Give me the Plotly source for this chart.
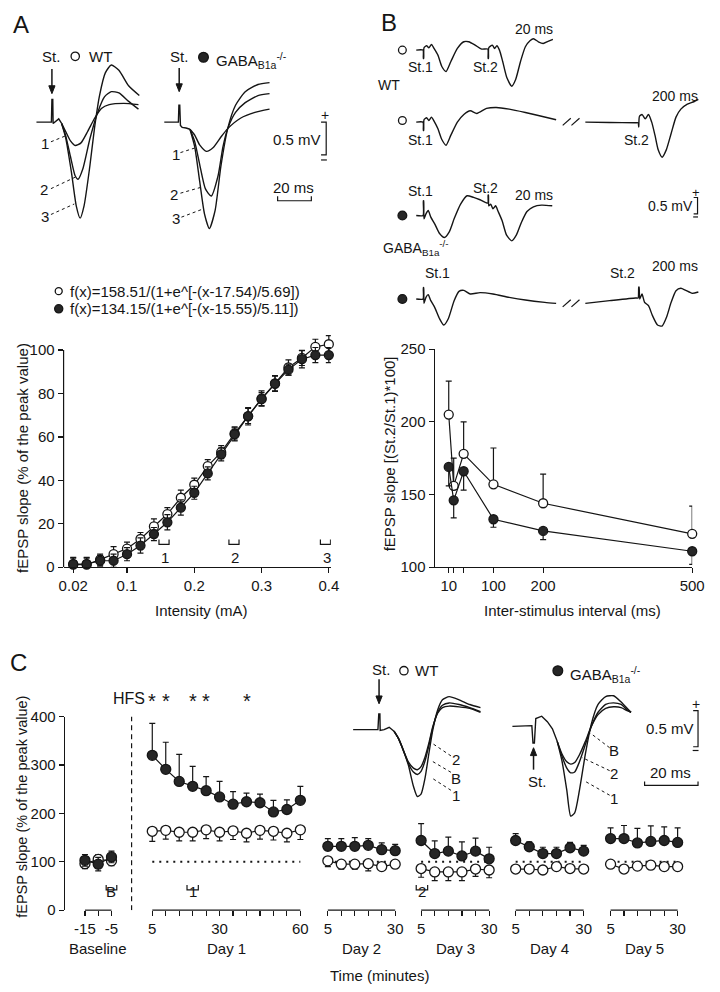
import plotly.graph_objects as go

# The page body keeps the browser's default 8 px margin, so the figure is
# 16 px smaller than the 720x992 window and all positions below are given in
# window pixels and shifted by that margin.
PAGE_W, PAGE_H, BODY = 720, 992, 8
W, H = PAGE_W - 2 * BODY, PAGE_H - 2 * BODY
FONT = "Arial, 'Liberation Sans', Helvetica, sans-serif"
INK = "#151515"
KO_FILL = "#262626"

# ===================== DATA =====================
# ---- Panel A: input/output curve
intensity_mA = [0.02, 0.04, 0.06, 0.08, 0.10, 0.12, 0.14, 0.16, 0.18, 0.20,
                0.22, 0.24, 0.26, 0.28, 0.30, 0.32, 0.34, 0.36, 0.38, 0.40]
io_wt = [1.2, 1.2, 3.5, 6.0, 8.6, 13.0, 18.8, 24.5, 32.0, 38.0,
         46.6, 53.0, 61.6, 69.5, 77.7, 84.7, 92.0, 96.4, 101.5, 102.7]
io_wt_sem = [3.0, 3.0, 2.5, 3.5, 3.0, 3.0, 3.5, 3.0, 3.5, 3.0,
             3.0, 3.0, 3.0, 4.0, 3.5, 3.5, 3.5, 3.5, 3.5, 4.0]
io_ko = [1.5, 1.5, 3.0, 3.0, 6.0, 10.0, 15.3, 20.7, 27.5, 34.3,
         43.2, 52.0, 61.2, 69.6, 77.4, 84.5, 91.0, 95.8, 97.7, 97.7]
io_ko_sem = [3.0, 3.0, 2.5, 3.0, 3.0, 3.5, 3.0, 3.5, 3.5, 3.0,
             3.0, 3.0, 3.0, 3.5, 3.0, 3.5, 2.5, 4.0, 3.5, 3.5]
io_xtick_vals = [0.02, 0.1, 0.2, 0.3, 0.4]
io_xtick_text = ["0.02", "0.1", "0.2", "0.3", "0.4"]
io_ytick_vals = [0, 20, 40, 60, 80, 100]
io_sample_labels = ["1", "2", "3"]
io_sample_mA = [0.155, 0.259, 0.395]
fit_wt = "f(x)=158.51/(1+e^[-(x-17.54)/5.69])"
fit_ko = "f(x)=134.15/(1+e^[-(x-15.55)/5.11])"

# ---- Panel B: paired-pulse ratio
isi_ms = [10, 20, 40, 100, 200, 500]
ppr_wt = [205, 156, 178, 157, 144, 123]
ppr_wt_sem = [23, 19, 22, 25, 20, 19]
ppr_ko = [169, 146, 166, 133, 125, 111]
ppr_ko_sem = [13, 12, 13, 5.5, 6, 9]
isi_tick_vals = [10, 100, 200, 500]
isi_minor_vals = [20, 40]
ppr_ytick_vals = [100, 150, 200, 250]

# ---- Panel C: LTP time course
base_min = [-15, -10, -5]
base_wt = [96, 105, 102]
base_wt_sem = [10, 10, 10]
base_ko = [103, 95, 110]
base_ko_sem = [12, 14, 12]
base_tick_vals = [-15, -5]
base_tick_text = ["-15", "-5"]
day1_min = [5, 10, 15, 20, 25, 30, 35, 40, 45, 50, 55, 60]
day1_wt = [163, 165, 161, 161, 166, 161, 164, 159, 165, 163, 159, 166]
day1_wt_sem = [21, 18, 18, 18, 18, 18, 18, 18, 18, 18, 18, 20]
day1_ko = [320, 291, 266, 256, 247, 234, 219, 224, 222, 203, 208, 227]
day1_ko_sem = [66, 56, 56, 41, 29, 32, 26, 18, 18, 24, 20, 29]
later_min = [5, 10, 15, 20, 25, 30]
day2_wt = [102, 95, 95, 96, 90, 95]
day2_wt_sem = [12, 10, 10, 15, 7, 6]
day2_ko = [132, 132, 132, 134, 125, 123]
day2_ko_sem = [16, 16, 18, 14, 14, 13]
day3_wt = [86, 79, 79, 79, 85, 83]
day3_wt_sem = [18, 18, 18, 18, 15, 16]
day3_ko = [144, 117, 122, 112, 122, 106]
day3_ko_sem = [35, 26, 29, 29, 27, 24]
day4_wt = [85, 85, 83, 90, 86, 85]
day4_wt_sem = [5, 5, 5, 5, 5, 5]
day4_ko = [144, 131, 117, 117, 129, 122]
day4_ko_sem = [14, 10, 13, 13, 11, 12]
day5_wt = [95, 85, 91, 93, 90, 90]
day5_wt_sem = [7, 7, 7, 7, 7, 7]
day5_ko = [148, 148, 139, 142, 144, 140]
day5_ko_sem = [22, 27, 30, 32, 28, 30]
signif_min = [5, 10, 20, 25, 40]
ltp_ytick_vals = [0, 100, 200, 300, 400]
window_labels = ["B", "1", "2"]
window_baseline = [-7.0, -3.0]
window_1 = [17.9, 22.1]
window_2 = [3.2, 7.4]

# ---- Example fEPSP sweeps (time in ms, amplitude in mV)
a_wt_pre_ms = [-9.1, -1.1, -0.3, 0.0, 0.5, 0.7, 2.3, 4.0, 5.7]
a_wt_pre_mv = [0, 0, 0, 0.35, 0.35, -0.02, 0.02, 0.05, -0.02]
a_wt_1_ms = [8.0, 10.9, 13.7, 17.1, 21.1, 25.1, 29.1, 33.7, 42.3, 50.9]
a_wt_1_mv = [-0.14, -0.29, -0.36, -0.32, -0.14, 0.06, 0.21, 0.27, 0.29, 0.27]
a_wt_2_ms = [8.0, 10.9, 13.7, 15.4, 18.3, 22.3, 26.9, 30.9, 34.9, 39.4, 45.1, 50.9]
a_wt_2_mv = [-0.20, -0.53, -0.83, -0.88, -0.71, -0.26, 0.15, 0.39, 0.47, 0.45, 0.32, 0.20]
a_wt_3_ms = [8.0, 11.4, 14.3, 16.6, 18.9, 22.3, 25.1, 28.0, 31.4, 34.9, 39.4, 45.1, 51.4]
a_wt_3_mv = [-0.23, -0.76, -1.29, -1.48, -1.29, -0.68, -0.08, 0.41, 0.76, 0.88, 0.80, 0.56, 0.41]

a_ko_pre_ms = [-8.6, -1.0, -0.3, 0.0, 0.5, 0.9, 1.9, 4.2, 6.5]
a_ko_pre_mv = [0, 0, 0, 0.26, 0.26, -0.05, -0.08, -0.09, -0.11]
a_ko_1_ms = [9.3, 12.2, 16.2, 20.2, 24.7, 28.7, 36.2, 44.7, 53.3]
a_ko_1_mv = [-0.20, -0.35, -0.45, -0.39, -0.23, -0.10, 0.06, 0.15, 0.20]
a_ko_2_ms = [9.3, 12.2, 15.6, 19.0, 23.0, 25.9, 28.7, 33.3, 39.0, 46.5, 53.3]
a_ko_2_mv = [-0.30, -0.65, -1.03, -1.14, -0.83, -0.38, -0.10, 0.15, 0.30, 0.41, 0.44]
a_ko_3_ms = [9.3, 12.2, 15.0, 17.9, 21.3, 24.7, 28.7, 33.3, 39.0, 46.5, 53.3]
a_ko_3_mv = [-0.38, -0.91, -1.41, -1.64, -1.36, -0.68, -0.10, 0.26, 0.47, 0.58, 0.61]

b_wt20_ms = [-2.2, -0.1, 0.0, 0.1, 0.2, 1.0, 1.7, 2.5, 3.3, 4.5, 5.7, 7.0, 8.5, 10.5, 12.5,
             14.0, 16.0, 18.0, 19.9, 20.0, 20.1, 20.2, 21.3, 22.0, 22.7, 23.5, 24.5, 25.8,
             27.3, 28.5, 30.0, 31.5, 33.0, 34.0, 35.5, 37.0, 38.5, 40.0]
b_wt20_mv = [0, 0, -0.25, -0.25, 0.07, 0.13, 0.07, 0.17, 0.05, -0.15, -0.49, -0.64, -0.34, 0.05,
             0.25, 0.25, 0.15, 0.03, 0.03, -0.25, -0.25, 0.07, 0.15, 0.05, 0.13, 0.0, -0.34,
             -0.83, -1.08, -0.88, -0.34, 0.10, 0.29, 0.34, 0.25, 0.20, 0.26, 0.32]
b_wt200_a_ms = [-2.2, -0.1, 0.0, 0.1, 0.2, 1.0, 1.7, 2.5, 3.3, 4.5, 5.7, 7.0, 8.5, 10.5, 12.5,
                14.5, 16.5, 19.5, 22.5, 26.5, 31.5, 35.5, 41.0]
b_wt200_a_mv = [0, 0, -0.25, -0.25, 0.07, 0.13, 0.05, 0.15, 0.03, -0.20, -0.52, -0.69, -0.39,
                0.0, 0.23, 0.34, 0.26, 0.41, 0.44, 0.39, 0.29, 0.20, 0.07]
b_wt200_b_ms = [183.5, 191.0, 199.0, 199.8, 200.0, 200.2, 201.0, 202.0, 203.0, 204.0, 205.0,
                206.0, 207.2, 208.5, 210.0, 211.5, 213.0, 215.0, 217.0, 218.4]
b_wt200_b_mv = [0, -0.01, -0.02, -0.02, -0.15, 0.17, 0.23, 0.10, 0.23, 0, -0.39, -0.83, -1.05,
                -0.83, -0.34, 0.15, 0.39, 0.54, 0.61, 0.68]
b_ko20_ms = [-2.2, -0.1, 0.0, 0.1, 0.2, 0.8, 1.5, 2.3, 3.5, 5.0, 6.5, 8.0, 9.5, 11.5, 13.5,
             15.5, 17.5, 19.9, 20.0, 20.1, 20.2, 20.8, 21.5, 22.3, 23.1, 24.3, 25.7, 27.3,
             28.7, 30.3, 32.0, 34.0, 36.5, 39.8]
b_ko20_mv = [0, 0, 0.44, 0.44, -0.10, 0.05, 0.15, -0.05, -0.25, -0.54, -0.66, -0.49, -0.10,
             0.34, 0.59, 0.54, 0.47, 0.37, 0.61, 0.61, 0.29, 0.34, 0.20, 0.29, 0.12, -0.15,
             -0.59, -0.76, -0.59, -0.20, 0.12, 0.26, 0.31, 0.29]
b_ko200_a_ms = [-2.2, -0.1, 0.0, 0.1, 0.2, 0.8, 1.5, 2.3, 3.5, 5.0, 6.3, 7.7, 9.5, 11.0, 12.5,
                14.5, 17.5, 21.5, 26.5, 31.5, 37.5, 41.0]
b_ko200_a_mv = [0, 0, 0.34, 0.34, -0.13, 0.05, 0.13, -0.05, -0.25, -0.59, -0.78, -0.59, -0.05,
                0.23, 0.26, 0.15, 0.19, 0.15, 0.05, -0.03, -0.10, -0.13]
b_ko200_b_ms = [183.5, 191.0, 199.0, 199.8, 200.0, 200.1, 200.3, 201.0, 201.8, 203.0, 204.2,
                205.8, 207.2, 208.6, 210.0, 211.5, 213.0, 214.5, 216.5, 218.4]
b_ko200_b_mv = [-0.13, -0.05, 0.03, 0.03, 0.36, 0.36, 0.0, 0.15, -0.10, -0.20, -0.49, -0.78,
                -0.81, -0.54, -0.10, 0.25, 0.32, 0.26, 0.17, 0.21]

c_wt_pre_ms = [-9.2, -0.4, -0.1, 0.3, 0.4, 1.8, 3.6, 5.3]
c_wt_pre_mv = [0, 0, 0.20, 0.20, -0.01, 0.0, 0.03, -0.02]
c_wt_ms = [7.0, 8.7, 10.4, 12.2, 13.6, 14.9, 16.3, 17.7, 19.1, 20.8, 22.5, 24.9, 28.4, 32.2, 36.0]
c_wt_1_mv = [-0.12, -0.27, -0.45, -0.72, -0.85, -0.82, -0.62, -0.30, 0.0, 0.25, 0.38, 0.42, 0.38, 0.32, 0.28]
c_wt_b_mv = [-0.12, -0.27, -0.43, -0.54, -0.57, -0.53, -0.40, -0.20, 0.03, 0.22, 0.31, 0.34, 0.32, 0.28, 0.23]
c_wt_2_mv = [-0.12, -0.27, -0.41, -0.49, -0.51, -0.47, -0.35, -0.17, 0.04, 0.21, 0.28, 0.30, 0.29, 0.27, 0.22]
c_ko_pre_ms = [-7.5, -0.6, -0.2, 0.3, 0.8, 2.9, 4.9, 6.7, 8.4]
c_ko_pre_mv = [0, 0.01, -0.21, -0.21, 0.10, 0.13, 0.06, -0.03, -0.19]
c_ko_ms = [10.1, 11.8, 13.2, 14.6, 16.3, 18.4, 20.5, 22.9, 25.6, 28.4, 31.1, 33.2, 34.6]
c_ko_1_mv = [-0.44, -0.81, -1.14, -1.10, -0.81, -0.35, 0.03, 0.28, 0.38, 0.39, 0.31, 0.23, 0.18]
c_ko_2_mv = [-0.38, -0.53, -0.59, -0.58, -0.45, -0.23, 0.0, 0.18, 0.28, 0.30, 0.28, 0.21, 0.18]
c_ko_b_mv = [-0.35, -0.45, -0.48, -0.46, -0.36, -0.19, 0.0, 0.15, 0.23, 0.25, 0.24, 0.20, 0.18]

# ===================== HELPERS =====================
fig = go.Figure()
axes = {}
shapes = []
annots = []


def qx(x):
    # window pixel -> paper fraction
    return (x - BODY) / W


def qy(y):
    return 1 - (y - BODY) / H


def xdom(v0, p0, v1, p1, r0, r1):
    k = (p1 - p0) / (v1 - v0)
    return [qx(p0 + (r0 - v0) * k), qx(p0 + (r1 - v0) * k)]


def ydom(v0, p0, v1, p1, r0, r1):
    k = (p0 - p1) / (v1 - v0)
    return [qy(p0 - (r0 - v0) * k), qy(p0 - (r1 - v0) * k)]


def fnt(size=15):
    return dict(size=size, color=INK, family=FONT)


def minor_ticks(vals):
    return dict(tickvals=vals, ticks="outside", ticklen=5, tickwidth=1.2, tickcolor=INK)


def base_axis(**kw):
    d = dict(showgrid=False, zeroline=False, showline=True, linecolor=INK, linewidth=1.2,
             ticks="outside", ticklen=5, tickwidth=1.2, tickcolor=INK,
             tickfont=fnt(15), fixedrange=True)
    d.update(kw)
    return d


def add_series(x, y, err, filled, xa, ya, up=True, down=True, size=9, name=None):
    zeros = [0 for _ in err]
    fig.add_trace(go.Scatter(
        x=x, y=y, mode="lines+markers", xaxis=xa, yaxis=ya, name=name, showlegend=False,
        cliponaxis=False, hoverinfo="skip",
        line=dict(color=INK, width=1.2),
        marker=dict(size=size, color=KO_FILL if filled else "white",
                    line=dict(color=INK, width=1.3)),
        error_y=dict(type="data", symmetric=False, array=err if up else zeros,
                     arrayminus=err if down else zeros, color=INK, thickness=1.2, width=3),
    ))


def add_wave(t, v, xa, ya, shape="spline", width=1.4):
    fig.add_trace(go.Scatter(
        x=t, y=v, mode="lines", xaxis=xa, yaxis=ya, showlegend=False, hoverinfo="skip",
        line=dict(color=INK, width=width, shape=shape, smoothing=0.6)))


def txt(text, x, y, size=15, xanchor="center", yanchor="middle", angle=0):
    annots.append(dict(text=text, x=qx(x), y=qy(y), xref="paper", yref="paper",
                       showarrow=False, font=fnt(size), xanchor=xanchor, yanchor=yanchor,
                       textangle=angle))


def seg(x0, y0, x1, y1, width=1.2, dash=None):
    ln = dict(color=INK, width=width)
    if dash:
        ln["dash"] = dash
    shapes.append(dict(type="line", xref="paper", yref="paper", x0=qx(x0), y0=qy(y0),
                       x1=qx(x1), y1=qy(y1), line=ln))


def poly(points, width=1.2, fill=None):
    d = "M " + " L ".join(f"{qx(a):.5f},{qy(b):.5f}" for a, b in points)
    s = dict(type="path", xref="paper", yref="paper", path=d, line=dict(color=INK, width=width))
    if fill:
        s["path"] = d + " Z"
        s["fillcolor"] = fill
    shapes.append(s)


def arrow(x, y_tip, y_tail):
    # vertical arrow with a filled head at y_tip
    sgn = 1 if y_tail < y_tip else -1
    seg(x, y_tail, x, y_tip - sgn * 6, width=1.5)
    poly([(x - 3.2, y_tip - sgn * 8), (x + 3.2, y_tip - sgn * 8), (x, y_tip)], width=1, fill=INK)


def dot(cx, cy, r, filled):
    shapes.append(dict(type="circle", xref="paper", yref="paper",
                       x0=qx(cx - r), x1=qx(cx + r), y0=qy(cy + r), y1=qy(cy - r),
                       fillcolor=KO_FILL if filled else "white",
                       line=dict(color=INK, width=1.3)))


def inset(n, x0, y0, kx, ky, trng, vrng, t0=0.0):
    # x0, y0: window pixel position of (t0 ms, 0 mV); kx px per ms, ky px per mV
    axes[f"xaxis{n}"] = dict(domain=[qx(x0 + (trng[0] - t0) * kx), qx(x0 + (trng[1] - t0) * kx)],
                             range=list(trng), visible=False, fixedrange=True, anchor=f"y{n}")
    axes[f"yaxis{n}"] = dict(domain=[qy(y0 - vrng[0] * ky), qy(y0 - vrng[1] * ky)],
                             range=list(vrng), visible=False, fixedrange=True, anchor=f"x{n}")


GABA = "GABA<sub>B1a</sub><sup>-/-</sup>"

# ===================== PANEL A =====================
axes["xaxis"] = base_axis(domain=xdom(0.1, 123.3, 0.4, 331.0, 0.0057, 0.403),
                          range=[0.0057, 0.403], anchor="y",
                          tickvals=io_xtick_vals, ticktext=io_xtick_text)
axes["yaxis"] = base_axis(domain=ydom(0, 568, 100, 347, 0, 108), range=[0, 108],
                          anchor="x", showline=False, tickvals=io_ytick_vals)
shapes.append(dict(type="line", xref="x domain", yref="y", x0=0, x1=0, y0=0, y1=100,
                   line=dict(color=INK, width=1.2)))
add_series(intensity_mA, io_wt, io_wt_sem, False, "x", "y", name="WT")
add_series(intensity_mA, io_ko, io_ko_sem, True, "x", "y", name="GABAB1a-/-")
for lab, xm in zip(io_sample_labels, io_sample_mA):
    shapes.append(dict(type="path", xref="x", yref="y",
                       path=f"M {xm - 0.0075},12.8 L {xm - 0.0075},10.5 L {xm + 0.0075},10.5 L {xm + 0.0075},12.8",
                       line=dict(color=INK, width=1.2)))
    annots.append(dict(text=lab, x=xm + 0.002, y=qy(558), xref="x", yref="paper",
                       showarrow=False, font=fnt(15)))
txt("Intensity (mA)", 200, 612)
txt("fEPSP slope (% of the peak value)", 15, 457, angle=-90)
dot(53, 287, 3.6, False)
txt(fit_wt, 63, 287, xanchor="left")
dot(53, 305, 4.2, True)
txt(fit_ko, 63, 305, xanchor="left")

# A sweeps
inset(9, 46.0, 115.0, 1.75, 66.0, (-10, 53), (-1.6, 1.0))
inset(10, 176.7, 115.0, 1.75, 66.0, (-9.5, 54.5), (-1.75, 0.7))
add_wave(a_wt_pre_ms, a_wt_pre_mv, "x9", "y9", shape="linear")
for tt, vv in [(a_wt_1_ms, a_wt_1_mv), (a_wt_2_ms, a_wt_2_mv), (a_wt_3_ms, a_wt_3_mv)]:
    add_wave([a_wt_pre_ms[-1]] + tt, [a_wt_pre_mv[-1]] + vv, "x9", "y9")
add_wave(a_ko_pre_ms, a_ko_pre_mv, "x10", "y10", shape="linear")
for tt, vv in [(a_ko_1_ms, a_ko_1_mv), (a_ko_2_ms, a_ko_2_mv), (a_ko_3_ms, a_ko_3_mv)]:
    add_wave([a_ko_pre_ms[-1]] + tt, [a_ko_pre_mv[-1]] + vv, "x10", "y10")

txt("A", 14, 16, size=24)
txt("St.", 45, 48)
arrow(46, 86, 61)
dot(70, 48, 4.3, False)
txt("WT", 96, 48)
txt("St.", 177, 48)
arrow(177, 84, 60)
dot(202, 49, 5, True)
txt(GABA, 213, 52, xanchor="left")
for lab, (lx, ly), (a0, b0, a1, b1) in [
        ("1", (39.3, 136.7), (45, 135, 61.7, 128.3)),
        ("2", (38.3, 183.3), (45, 182.7, 70.7, 170.7)),
        ("3", (39.3, 210.7), (45, 209, 69, 198.3)),
        ("1", (173.3, 147.5), (178.3, 146, 195, 140.7)),
        ("2", (171.7, 188.3), (178.3, 187.3, 201.7, 180.7)),
        ("3", (173.3, 212.7), (179.3, 211.7, 201.7, 203.3))]:
    txt(lab, lx, ly)
    seg(a0, b0, a1, b1, width=1, dash="dot")
# A scale bars
txt("+", 326.7, 108, size=14)
poly([(323, 115), (328.3, 115), (328.3, 148.3), (323, 148.3)])
seg(323, 153.5, 329, 153.5)
txt("0.5 mV", 298, 132.7)
txt("20 ms", 295, 181.7)
poly([(278.3, 190.5), (278.3, 195), (313, 195), (313, 190.5)])

# ===================== PANEL B =====================
axes["xaxis2"] = base_axis(domain=xdom(0, 449.3, 500, 705, -18.2, 500), range=[-18.2, 500],
                           anchor="y2", tickvals=isi_tick_vals,
                           minor=minor_ticks(isi_minor_vals))
axes["yaxis2"] = base_axis(domain=ydom(100, 568, 250, 346, 100, 250), range=[100, 250],
                           anchor="x2", tickvals=ppr_ytick_vals)
add_series(isi_ms, ppr_wt, ppr_wt_sem, False, "x2", "y2", up=True, down=False, size=9, name="WT")
add_series(isi_ms, ppr_ko, ppr_ko_sem, True, "x2", "y2", up=False, down=True, size=9,
           name="GABAB1a-/-")
txt("Inter-stimulus interval (ms)", 582, 612)
txt("fEPSP slope [(St.2/St.1)*100]", 393, 453, angle=-90)

inset(11, 428.3, 41.7, 3.333, 34.0, (-2.5, 40.5), (-1.15, 0.4))
inset(12, 428.3, 115.0, 3.333, 34.0, (-2.5, 41.5), (-0.75, 0.5))
inset(13, 650.0, 115.0, 3.333, 34.0, (183, 218.6), (-1.1, 0.8), t0=200.0)
inset(14, 428.3, 210.0, 3.333, 34.0, (-2.5, 40.5), (-0.8, 0.65))
inset(15, 428.3, 295.0, 3.333, 34.0, (-2.5, 41.5), (-0.85, 0.4))
inset(16, 650.0, 295.0, 3.333, 34.0, (183, 218.6), (-0.9, 0.45), t0=200.0)
add_wave(b_wt20_ms, b_wt20_mv, "x11", "y11")
add_wave(b_wt200_a_ms, b_wt200_a_mv, "x12", "y12")
add_wave(b_wt200_b_ms, b_wt200_b_mv, "x13", "y13")
add_wave(b_ko20_ms, b_ko20_mv, "x14", "y14")
add_wave(b_ko200_a_ms, b_ko200_a_mv, "x15", "y15")
add_wave(b_ko200_b_ms, b_ko200_b_mv, "x16", "y16")

txt("B", 393, 14, size=24)
dot(406.7, 41.7, 4, False)
txt("St.1", 425, 59.3, size=14)
txt("St.2", 492.3, 59.3, size=14)
txt("20 ms", 541.7, 20.7, size=14)
txt("WT", 393.3, 77.3, size=14)
dot(406.7, 113.3, 4, False)
txt("St.1", 425, 132.7, size=14)
txt("St.2", 647.3, 132.7, size=14)
txt("200 ms", 687, 88.3, size=14)
seg(571.7, 118.3, 580, 111)
seg(580.7, 118.3, 589, 111)
dot(406.7, 210, 4.5, True)
txt("St.1", 425, 185, size=14)
txt("St.2", 492.3, 181.7, size=14)
txt("20 ms", 541.7, 189.3, size=14)
txt(GABA, 385, 243, size=14, xanchor="left")
dot(406.7, 295, 4.5, True)
txt("St.1", 443.3, 268.3, size=14)
txt("St.2", 633.3, 268.3, size=14)
txt("200 ms", 687, 261.7, size=14)
seg(571.7, 303, 580, 295.7)
seg(580.7, 303, 589, 295.7)
txt("+", 709, 186.7, size=13)
poly([(706.5, 191.7), (710.5, 191.7), (710.5, 208.3), (706.5, 208.3)])
seg(706, 211.5, 711, 211.5)
txt("0.5 mV", 683, 200, size=14)

# ===================== PANEL C =====================
axes["yaxis3"] = base_axis(domain=ydom(0, 917, 400, 720, 0, 400), range=[0, 400],
                           anchor="free", position=qx(58), tickvals=ltp_ytick_vals)
c_segments = [
    # axis id, minutes, (v0, px0, v1, px1), range, labelled ticks, tick text, label, data
    ("3", base_min, (-15, 80.0, -5, 107.3), (-16.5, -2.5), base_tick_vals, base_tick_text,
     "Baseline", base_wt, base_wt_sem, base_ko, base_ko_sem),
    ("4", day1_min, (5, 149.3, 60, 301.7), (3, 62), [5, 30, 60], ["5", "30", "60"], "Day 1",
     day1_wt, day1_wt_sem, day1_ko, day1_ko_sem),
    ("5", later_min, (5, 330.0, 30, 399.3), (2.5, 32.5), [5, 30], ["5", "30"], "Day 2",
     day2_wt, day2_wt_sem, day2_ko, day2_ko_sem),
    ("6", later_min, (5, 426.0, 30, 496.0), (2.5, 32.5), [5, 30], ["5", "30"], "Day 3",
     day3_wt, day3_wt_sem, day3_ko, day3_ko_sem),
    ("7", later_min, (5, 523.3, 30, 593.3), (2.5, 32.5), [5, 30], ["5", "30"], "Day 4",
     day4_wt, day4_wt_sem, day4_ko, day4_ko_sem),
    ("8", later_min, (5, 621.0, 30, 690.0), (2.5, 32.5), [5, 30], ["5", "30"], "Day 5",
     day5_wt, day5_wt_sem, day5_ko, day5_ko_sem),
]
for n, mins, (v0, p0, v1, p1), rng, labelled, ltext, label, wt, wt_s, ko, ko_s in c_segments:
    axes[f"xaxis{n}"] = base_axis(domain=xdom(v0, p0, v1, p1, rng[0], rng[1]), range=list(rng),
                                  anchor="y3", showline=False, tickvals=labelled, ticktext=ltext,
                                  minor=minor_ticks([m for m in mins if m not in labelled]))
    shapes.append(dict(type="line", xref=f"x{n}", yref="y3 domain", x0=mins[0], x1=mins[-1],
                       y0=0, y1=0, line=dict(color=INK, width=1.2)))
    both = n == "3"
    add_series(mins, wt, wt_s, False, f"x{n}", "y3", up=both, down=True, size=10, name="WT")
    add_series(mins, ko, ko_s, True, f"x{n}", "y3", up=True, down=both, size=10,
               name="GABAB1a-/-")
    if not both:
        shapes.append(dict(type="line", xref=f"x{n}", yref="y3", x0=mins[0], x1=mins[-1],
                           y0=100, y1=100, layer="below",
                           line=dict(color=INK, width=2, dash="2px,5px")))
    txt(label, (p0 + p1) / 2, 956)

for m in signif_min:
    annots.append(dict(text="*", x=m, y=qy(717), xref="x4", yref="paper", showarrow=False,
                       font=fnt(20)))
for lab, (xa, win) in zip(window_labels, [("x3", window_baseline), ("x4", window_1), ("x6", window_2)]):
    shapes.append(dict(type="path", xref=xa, yref="y3",
                       path=f"M {win[0]},52 L {win[0]},42 L {win[1]},42 L {win[1]},52",
                       line=dict(color=INK, width=1.2)))
    annots.append(dict(text=lab, x=(win[0] + win[1]) / 2, y=qy(909), xref=xa, yref="paper",
                       showarrow=False, font=fnt(15)))
shapes.append(dict(type="line", xref="paper", yref="y3", x0=qx(128), x1=qx(128), y0=0, y1=400,
                   line=dict(color=INK, width=1.2, dash="5px,4px")))
txt("HFS", 125, 701.7, size=16)
txt("C", 12, 665, size=24)
txt("fEPSP slope (% of the peak value)", 15, 812, size=14.5, angle=-90)
txt("Time (minutes)", 383, 983)

# C sweeps
inset(17, 382.7, 733.3, 2.9, 80.0, (-9.5, 36.5), (-0.95, 0.5))
inset(18, 541.7, 730.0, 2.9, 80.0, (-8, 35), (-1.2, 0.45))
add_wave(c_wt_pre_ms, c_wt_pre_mv, "x17", "y17", shape="linear")
for vv in [c_wt_1_mv, c_wt_b_mv, c_wt_2_mv]:
    add_wave([c_wt_pre_ms[-1]] + c_wt_ms, [c_wt_pre_mv[-1]] + vv, "x17", "y17")
add_wave(c_ko_pre_ms, c_ko_pre_mv, "x18", "y18", shape="linear")
for vv in [c_ko_1_mv, c_ko_2_mv, c_ko_b_mv]:
    add_wave([c_ko_pre_ms[-1]] + c_ko_ms, [c_ko_pre_mv[-1]] + vv, "x18", "y18")

txt("St.", 385, 671.7)
arrow(382.7, 707, 682)
dot(408.3, 673.3, 4.3, False)
txt("WT", 432, 673.3)
dot(566.7, 673.3, 5, True)
txt(GABA, 577, 677, xanchor="left")
txt("St.", 545, 786)
arrow(541.7, 751.7, 774)
for lab, (lx, ly), (a0, b0, a1, b1) in [
        ("2", (461.7, 763.3), (456.7, 760, 436.7, 746.7)),
        ("B", (461.7, 783.3), (456.7, 776.7, 436.7, 765)),
        ("1", (461.7, 800), (456.7, 795, 438.3, 783.3)),
        ("B", (625, 755), (620, 751.7, 600, 736.7)),
        ("2", (625, 778.3), (620, 775, 591.7, 761.7)),
        ("1", (625, 803.3), (620, 800, 593.3, 785))]:
    txt(lab, lx, ly)
    seg(a0, b0, a1, b1, width=1, dash="dot")
txt("+", 709, 706.7, size=14)
poly([(706, 714), (711, 714), (711, 750.7), (706, 750.7)])
seg(705.5, 754.5, 711.5, 754.5)
txt("0.5 mV", 682, 731.7)
txt("20 ms", 683, 777.3)
poly([(656, 786), (656, 790), (711, 790), (711, 786)])

fig.update_layout(
    width=W, height=H, margin=dict(l=0, r=0, t=0, b=0),
    paper_bgcolor="white", plot_bgcolor="rgba(0,0,0,0)",
    showlegend=False, font=fnt(15),
    shapes=shapes, annotations=annots, **axes)

fig.write_html("out.html", config={"displayModeBar": False, "staticPlot": True})
